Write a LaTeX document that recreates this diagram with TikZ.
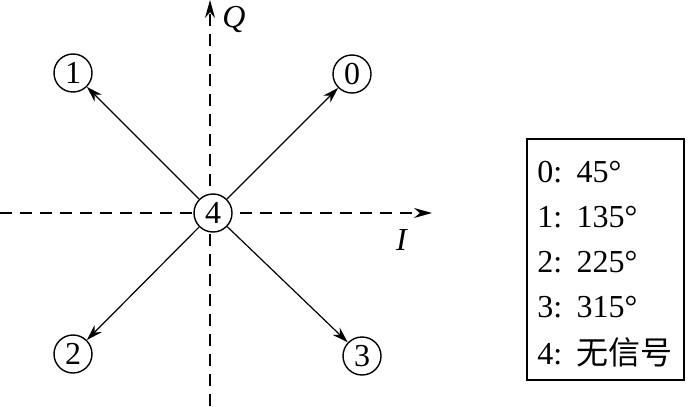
\documentclass[tikz,border=0pt]{standalone}
\usepackage{fontspec}
\setmainfont{Liberation Serif}
\newfontfamily\cjkfont{Noto Sans CJK SC}
\newcommand{\legsep}{:\hspace{0.45em}}
\usetikzlibrary{arrows.meta}

\begin{document}
\begin{tikzpicture}[x=0.5pt, y=-0.5pt, font=\fontsize{16}{18}\selectfont,
  sym/.style={draw, circle, line width=0.7pt, minimum size=19pt, inner sep=0pt, fill=white},
  vec/.style={-{Stealth[length=8pt, width=5pt]}, line width=0.6pt},
  axis/.style={dash pattern=on 6pt off 4pt, line width=0.6pt, -{Stealth[length=9pt, width=5pt]}},
  entry/.style={anchor=west, inner sep=0pt}]

  \useasboundingbox (0,0) rectangle (689,406);

  % ── I / Q axes ───────────────────────────────────────────────────
  \coordinate (Ibeg) at (0,213);
  \coordinate (Iend) at (432,213);
  \coordinate (Qbeg) at (210,406);
  \coordinate (Qend) at (210,0);
  \draw[axis] (Ibeg) -- (Iend);
  \draw[axis] (Qbeg) -- (Qend);
  \node (Qlab) at (234,20) {\textit{Q}};
  \node (Ilab) at (402,240) {\textit{I}};

  % ── Signal points ────────────────────────────────────────────────
  \node[sym] (p4) at (213,213) {4};
  \foreach \n/\x/\y in {0/352/74, 1/73/73, 2/73/354, 3/362/356}{
    \node[sym] (p\n) at (\x,\y) {\n};
    \draw[vec] (p4) -- (p\n);
  }

  % ── Legend ───────────────────────────────────────────────────────
  \draw[line width=1.4pt] (527,139) rectangle (684,380);
  \node[entry] (leg0) at (537,172) {0\legsep 45°};
  \node[entry] (leg1) at (537,217) {1\legsep 135°};
  \node[entry] (leg2) at (537,262) {2\legsep 225°};
  \node[entry] (leg3) at (537,307) {3\legsep 315°};
  \node[entry] (leg4) at (537,352) {4\legsep{\cjkfont 无信号}};

\end{tikzpicture}
\end{document}
